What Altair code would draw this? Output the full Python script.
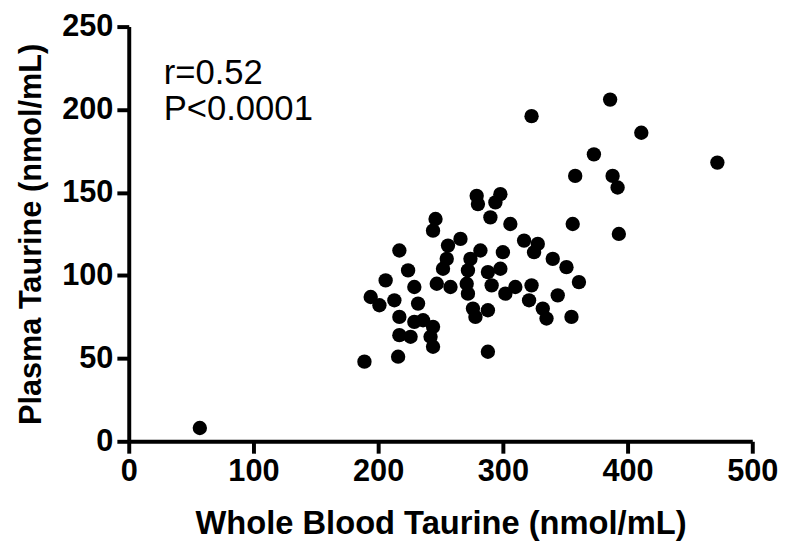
import altair as alt
import pandas as pd

# Whole blood taurine (x) and plasma taurine (y), nmol/mL
whole_blood = [57, 189, 194, 201, 206, 213, 216, 217, 217, 217, 224, 226, 229, 229, 232, 236,
               242, 244, 244, 244, 246, 247, 252, 255, 256, 258, 266, 272, 274, 271, 272,
               276, 278, 279, 280, 282, 288, 288, 288, 290, 291, 294, 298, 298, 300, 302,
               306, 310, 317, 321, 323, 323, 325, 328, 332, 335, 340, 344, 351, 355, 356,
               358, 361, 373, 386, 388, 392, 393, 411, 472]
plasma = [8, 48, 87, 82, 97, 85, 51, 115, 75, 64, 103, 63, 93, 72, 83, 73,
          63, 69, 57, 127, 134, 95, 104, 110, 118, 93, 122, 103, 110, 95, 89,
          80, 75, 148, 143, 115, 102, 79, 54, 135, 94, 144, 149, 104, 114, 89,
          131, 93, 121, 85, 94, 196, 114, 119, 80, 74, 110, 88, 105, 75, 131,
          160, 96, 173, 206, 160, 153, 125, 186, 168]

ann_x = [28, 28]
ann_y = [222, 200]
ann_text = ["r=0.52", "P<0.0001"]

df = pd.DataFrame({"wb": whole_blood, "pl": plasma})
ann = pd.DataFrame({"x": ann_x, "y": ann_y, "t": ann_text})

points = alt.Chart(df).mark_circle(size=210, color="black", opacity=1).encode(
    x=alt.X("wb:Q", scale=alt.Scale(domain=[0, 500], nice=False),
            axis=alt.Axis(values=[0, 100, 200, 300, 400, 500],
                          title="Whole Blood Taurine (nmol/mL)", titlePadding=21,
                          titleFontSize=33)),
    y=alt.Y("pl:Q", scale=alt.Scale(domain=[0, 250], nice=False),
            axis=alt.Axis(values=[0, 50, 100, 150, 200, 250],
                          title="Plasma Taurine (nmol/mL)", titlePadding=14,
                          titleFontSize=31)),
)

text = alt.Chart(ann).mark_text(align="left", baseline="middle", fontSize=35,
                                font="Liberation Sans", color="black").encode(
    x="x:Q", y="y:Q", text="t:N")

chart = (points + text).properties(
    width=630, height=419, autosize="none",
    padding={"left": 122, "top": 16, "right": 28, "bottom": 104},
).configure_view(stroke=None).configure_axis(
    grid=False, domainColor="black", domainWidth=4, tickColor="black",
    tickWidth=4, tickSize=12, labelFont="Liberation Sans", labelFontWeight="bold",
    labelFontSize=31, labelColor="black", labelPadding=4, labelFlush=False,
    labelOverlap=False,
    titleFont="Liberation Sans", titleFontWeight="bold",
    titleColor="black",
)

chart.save("out.html", embed_options={"renderer": "svg", "actions": False})
